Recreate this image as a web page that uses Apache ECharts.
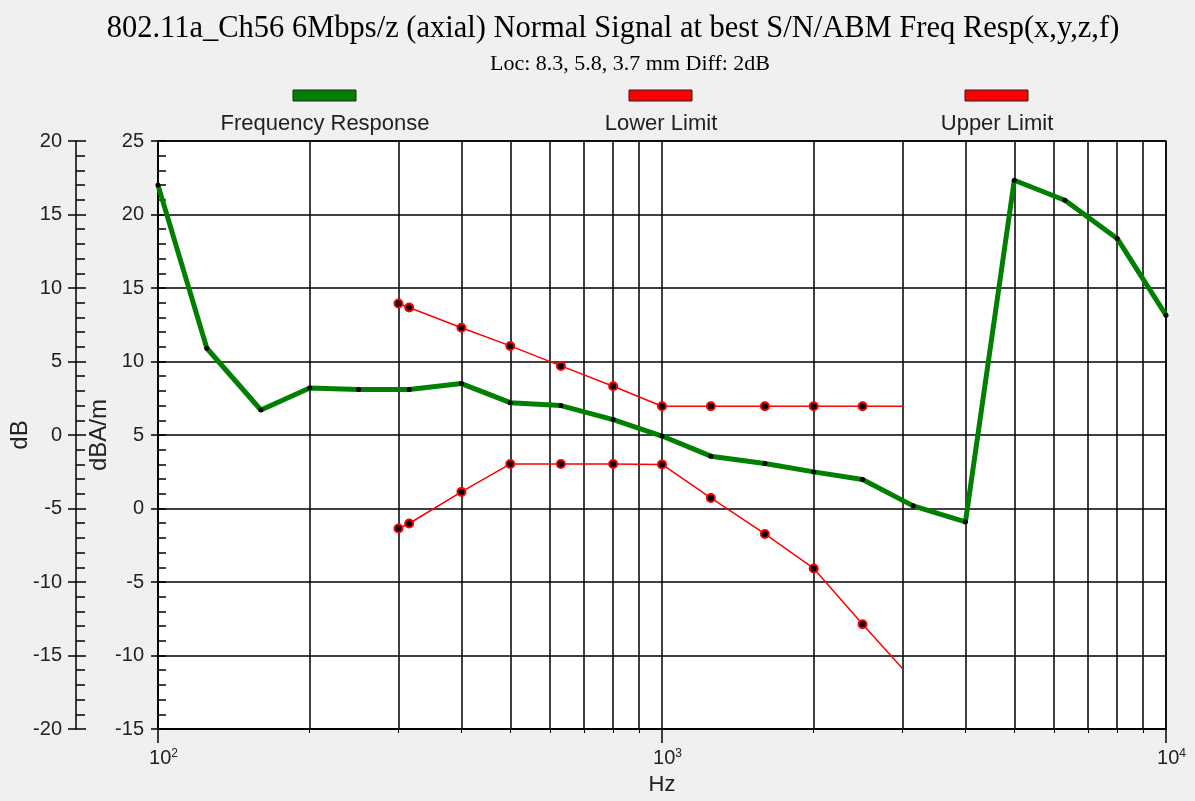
<!DOCTYPE html>
<html>
<head>
<meta charset="utf-8">
<script src="https://cdn.jsdelivr.net/npm/echarts@6/dist/echarts.min.js"></script>
<style>
html,body{margin:0;padding:0;background:#f0f0f0;}
#chart{width:1195px;height:801px;}
</style>
</head>
<body>
<div id="chart"></div>
<script>
// ---- data ----
const titleText = '802.11a_Ch56 6Mbps/z (axial) Normal Signal at best S/N/ABM Freq Resp(x,y,z,f)';
const subtitleText = 'Loc: 8.3, 5.8, 3.7 mm Diff: 2dB';
const seriesNames = ['Frequency Response', 'Lower Limit', 'Upper Limit'];

const respFreqs = [100,125,160,200,250,315,400,500,630,800,1000,1250,1600,2000,2500,3150,4000,5000,6300,8000,10000];
const respValues = [22.0,10.9,6.7,8.2,8.1,8.1,8.5,7.2,7.0,6.05,4.93,3.56,3.06,2.49,1.97,0.18,-0.91,22.33,20.97,18.37,13.15];

const limitFreqs = [300,315,400,500,630,800,1000,1250,1600,2000,2500,3000];
const lowerValues = [-1.36,-1.02,1.13,3.03,3.03,3.03,3.0,0.72,-1.73,-4.08,-7.87,-10.88];
const upperValues = [13.95,13.67,12.3,11.06,9.7,8.32,6.96,6.96,6.96,6.96,6.96,6.96];

const xAxisName = 'Hz';
const yAxisNameInner = 'dBA/m';
const yAxisNameOuter = 'dB';

// ---- build ----
const pairs = (xs, ys) => xs.map((x, i) => [x, ys[i]]);
const limitData = (xs, ys) => xs.map((x, i) => i === xs.length - 1 ? {value:[x, ys[i]], symbol:'none'} : [x, ys[i]]);

const chart = echarts.init(document.getElementById('chart'));
const sans = 'Liberation Sans';
const serif = 'Liberation Serif';
const black = '#000';

const option = {
  animation: false,
  backgroundColor: '#f0f0f0',
  title: [
    {text: titleText, left: 608, top: 8, textAlign: 'center', textStyle: {fontFamily: serif, fontSize: 30.5, fontWeight: 'normal', color: black}},
    {text: subtitleText, left: 625, top: 48, textAlign: 'center', textStyle: {fontFamily: serif, fontSize: 22, fontWeight: 'normal', color: black}}
  ],
  grid: {left: 158, right: 29, top: 141, bottom: 72, show: true, backgroundColor: '#fff', borderColor: black, borderWidth: 1.5, outerBoundsMode: 'none', containLabel: false},
  xAxis: {
    type: 'log', logBase: 10, min: 100, max: 10000,
    name: xAxisName, nameLocation: 'middle', nameGap: 45, nameMoveOverlap: false,
    nameTextStyle: {fontFamily: sans, fontSize: 22, color: '#222'},
    axisLine: {onZero: false, lineStyle: {color: black, width: 1.5}},
    axisTick: {length: 14, lineStyle: {color: black, width: 1.5}},
    minorTick: {show: true, splitNumber: 9, length: 4, lineStyle: {color: black, width: 1}},
    splitLine: {show: true, lineStyle: {color: black, width: 1.5}},
    minorSplitLine: {show: true, lineStyle: {color: black, width: 1.5}},
    axisLabel: {
      margin: 19, color: '#222',
      formatter: v => '{a|10}{s|' + Math.round(Math.log10(v)) + '}',
      rich: {
        a: {fontFamily: sans, fontSize: 20, color: '#222', padding: [0, 0, 0, 11]},
        s: {fontFamily: sans, fontSize: 12, color: '#222', verticalAlign: 'top', padding: [0, 0, 8, 0]}
      }
    }
  },
  yAxis: [
    {
      type: 'value', position: 'left', offset: 0, min: -15, max: 25, interval: 5,
      name: yAxisNameInner, nameLocation: 'middle', nameGap: 47, nameMoveOverlap: false,
      nameTextStyle: {fontFamily: sans, fontSize: 24, color: '#222'},
      axisLine: {show: true, onZero: false, lineStyle: {color: black, width: 1.5}},
      axisTick: {show: true, length: 7, lineStyle: {color: black, width: 1.5}},
      axisLabel: {margin: 14, fontFamily: sans, fontSize: 20, color: '#222'},
      splitLine: {show: true, lineStyle: {color: black, width: 1.5}}
    },
    {
      type: 'value', position: 'left', offset: 0, min: -15, max: 25, interval: 5,
      axisLine: {show: false, onZero: false},
      axisTick: {show: true, inside: true, length: 8, lineStyle: {color: black, width: 1.5}},
      minorTick: {show: true, splitNumber: 5, length: 8, lineStyle: {color: black, width: 1.5}},
      axisLabel: {show: false},
      splitLine: {show: false}
    },
    {
      type: 'value', position: 'left', offset: 82, min: -20, max: 20, interval: 5,
      name: yAxisNameOuter, nameLocation: 'middle', nameGap: 44, nameMoveOverlap: false,
      nameTextStyle: {fontFamily: sans, fontSize: 24, color: '#222'},
      axisLine: {show: true, onZero: false, lineStyle: {color: black, width: 1.5}},
      axisTick: {show: true, length: 8, lineStyle: {color: black, width: 1.5}},
      axisLabel: {margin: 14, fontFamily: sans, fontSize: 20, color: '#222'},
      splitLine: {show: false}
    },
    {
      type: 'value', position: 'left', offset: 82, min: -20, max: 20, interval: 5,
      axisLine: {show: false, onZero: false},
      axisTick: {show: true, inside: true, length: 10, lineStyle: {color: black, width: 1.5}},
      minorTick: {show: true, splitNumber: 5, length: 9, lineStyle: {color: black, width: 1.5}},
      axisLabel: {show: false},
      splitLine: {show: false}
    }
  ],
  graphic: [
    {type: 'rect', shape: {x: 293, y: 90, width: 63, height: 11}, style: {fill: '#008000', stroke: '#222', lineWidth: 1}},
    {type: 'rect', shape: {x: 629, y: 90, width: 63, height: 11}, style: {fill: '#ff0000', stroke: '#222', lineWidth: 1}},
    {type: 'rect', shape: {x: 965, y: 90, width: 63, height: 11}, style: {fill: '#ff0000', stroke: '#222', lineWidth: 1}},
    {type: 'text', x: 325, y: 124, style: {text: seriesNames[0], fontFamily: sans, fontSize: 22, fill: '#222', align: 'center', verticalAlign: 'middle'}},
    {type: 'text', x: 661, y: 124, style: {text: seriesNames[1], fontFamily: sans, fontSize: 22, fill: '#222', align: 'center', verticalAlign: 'middle'}},
    {type: 'text', x: 997, y: 124, style: {text: seriesNames[2], fontFamily: sans, fontSize: 22, fill: '#222', align: 'center', verticalAlign: 'middle'}}
  ],
  series: [
    {
      name: seriesNames[1], type: 'line', yAxisIndex: 0, data: limitData(limitFreqs, lowerValues),
      symbol: 'circle', symbolSize: 8,
      itemStyle: {color: '#000', borderColor: '#ff0000', borderWidth: 2},
      lineStyle: {color: '#ff0000', width: 1.5},
      emphasis: {disabled: true}, z: 3
    },
    {
      name: seriesNames[2], type: 'line', yAxisIndex: 0, data: limitData(limitFreqs, upperValues),
      symbol: 'circle', symbolSize: 8,
      itemStyle: {color: '#000', borderColor: '#ff0000', borderWidth: 2},
      lineStyle: {color: '#ff0000', width: 1.5},
      emphasis: {disabled: true}, z: 3
    },
    {
      name: seriesNames[0], type: 'line', yAxisIndex: 0, data: pairs(respFreqs, respValues),
      symbol: 'circle', symbolSize: 5,
      itemStyle: {color: '#000', borderWidth: 0},
      lineStyle: {color: '#008000', width: 5},
      emphasis: {disabled: true}, z: 4
    }
  ]
};
chart.setOption(option);
</script>
</body>
</html>
